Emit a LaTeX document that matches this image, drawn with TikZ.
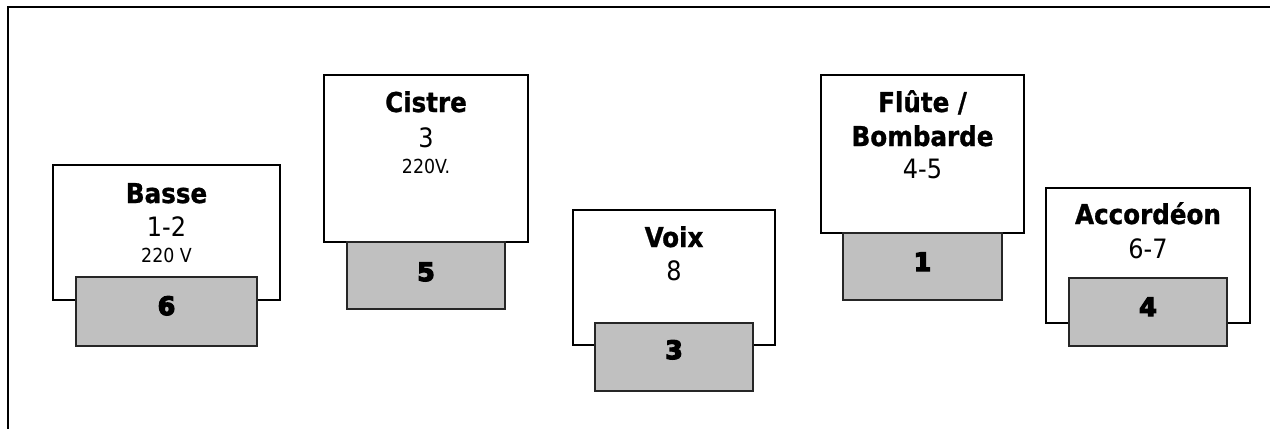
\documentclass[tikz,border=0pt]{standalone}
\usepackage{fontspec}
\IfFontExistsTF{DejaVuSansCondensed.ttf}
  {\setmainfont{DejaVuSansCondensed.ttf}[BoldFont=DejaVuSansCondensed-Bold.ttf,BoldFeatures={FakeBold=1}]}
  {\setmainfont{DejaVu Sans}}
\newfontfamily\heavyfont{DejaVu Sans}[BoldFeatures={FakeBold=5}]
\definecolor{plug}{HTML}{C0C0C0}
\tikzset{
  standbox/.style={draw=black,line width=1.4pt,fill=white},
  plugbox/.style={draw=black!85,line width=1.4pt,fill=plug},
  title/.style={anchor=base,font=\bfseries\fontsize{20.5}{24}\selectfont},
  chan/.style={anchor=base,font=\fontsize{20}{24}\selectfont},
  volt/.style={anchor=base,font=\fontsize{14.5}{17}\selectfont},
  plugnum/.style={anchor=base,font=\heavyfont\bfseries\fontsize{19}{21}\selectfont}
}
\begin{document}
\begin{tikzpicture}[x=0.75pt,y=-0.75pt]
\useasboundingbox (0,0) rectangle (1270,429);
\draw[line width=1.6pt] (1270,7) -- (8,7) -- (8,429);

\draw[standbox] (53,165) rectangle (280,300);
\draw[plugbox] (76,277) rectangle (257,346);
\draw[standbox] (324,75) rectangle (528,242);
\draw[plugbox] (347,242) rectangle (505,309);
\draw[standbox] (573,210) rectangle (775,345);
\draw[plugbox] (595,323) rectangle (753,391);
\draw[standbox] (821,75) rectangle (1024,233);
\draw[plugbox] (843,233) rectangle (1002,300);
\draw[standbox] (1046,188) rectangle (1250,323);
\draw[plugbox] (1069,278) rectangle (1227,346);

\node[title] (basse) at (166.5,203) {Basse};
\node[chan] (basse-ch) at (166.5,236) {1-2};
\node[volt] (basse-v) at (166.5,262) {220 V};
\node[plugnum] (basse-p) at (166.5,315) {6};

\node[title] (cistre) at (426,112) {Cistre};
\node[chan] (cistre-ch) at (426,147) {3};
\node[volt] (cistre-v) at (426,173) {220V.};
\node[plugnum] (cistre-p) at (426,281) {5};

\node[title] (voix) at (674,247) {Voix};
\node[chan] (voix-ch) at (674,280) {8};
\node[plugnum] (voix-p) at (674,359) {3};

\node[title] (flute) at (922.5,112) {Flûte /};
\node[title] (flute-b) at (922.5,146) {Bombarde};
\node[chan] (flute-ch) at (922.5,178) {4-5};
\node[plugnum] (flute-p) at (922.5,271) {1};

\node[title] (accord) at (1148,224) {Accordéon};
\node[chan] (accord-ch) at (1148,258) {6-7};
\node[plugnum] (accord-p) at (1148,316) {4};
\end{tikzpicture}
\end{document}
